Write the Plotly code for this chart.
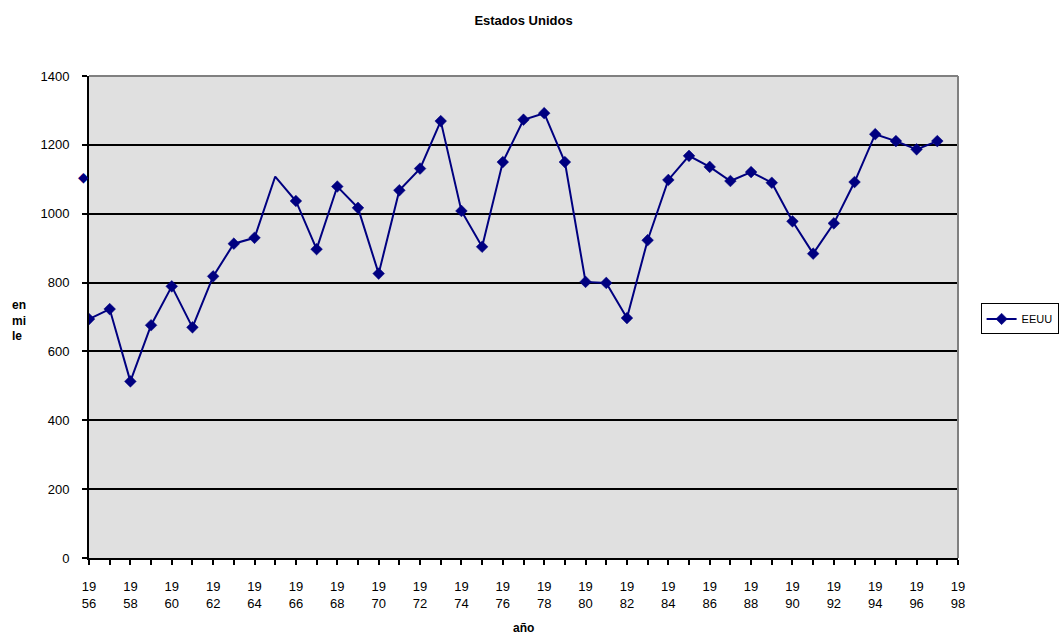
import plotly.graph_objects as go

years = list(range(1956, 1998))
values = [694, 723, 513, 676, 789, 670, 818, 913, 930, 1108,
          1037, 897, 1079, 1017, 826, 1068, 1131, 1269, 1008, 904,
          1150, 1273, 1292, 1150, 802, 799, 697, 923, 1098, 1168,
          1136, 1095, 1121, 1090, 978, 884, 972, 1092, 1231, 1211,
          1187, 1211]
tick_years = list(range(1956, 1999))
tick_labels = [f"19<br>{str(y)[2:]}" if y % 2 == 0 else "" for y in tick_years]
y_ticks = [0, 200, 400, 600, 800, 1000, 1200, 1400]

navy = "#000080"
font = "Liberation Sans, Arial, sans-serif"

# the original shows the 1965 marker displaced onto the value axis
stray_idx = 9
sizes = [0 if i == stray_idx else 9 for i in range(len(values))]

fig = go.Figure()
fig.add_trace(go.Scatter(
    x=years, y=values, mode="lines+markers", name="EEUU",
    line=dict(color=navy, width=2),
    marker=dict(symbol="diamond", size=sizes, color=navy, opacity=1,
                line=dict(width=0.5, color=navy)),
))

fig.update_layout(
    width=1063, height=634,
    margin=dict(l=89, r=105, t=76, b=76, autoexpand=False),
    paper_bgcolor="white", plot_bgcolor="#e0e0e0",
    font=dict(family=font, size=13, color="black"),
    title=dict(text="<b>Estados Unidos</b>", x=0.4925, xanchor="center",
               y=1 - 20 / 634, yanchor="middle",
               font=dict(size=13, family=font, color="black")),
    showlegend=True,
    legend=dict(x=1.026, y=0.496, xanchor="left", yanchor="middle",
                bordercolor="black", borderwidth=1, bgcolor="white",
                font=dict(size=11, family=font), itemwidth=30,
                tracegroupgap=0),
    xaxis=dict(range=[1956, 1998], tickmode="array", tickvals=tick_years,
               ticktext=tick_labels, ticks="outside", ticklen=5,
               tickwidth=1.5, tickcolor="black", tickangle=0,
               showline=True, linecolor="black", linewidth=2,
               showgrid=False, zeroline=False, ticklabelstandoff=10),
    yaxis=dict(range=[0, 1400], tickvals=y_ticks, ticks="outside",
               ticklen=5, tickwidth=1.5, tickcolor="black",
               showline=True, linecolor="black", linewidth=2,
               showgrid=True, gridcolor="black", gridwidth=1.5,
               zeroline=False, ticklabelstandoff=10),
    shapes=[dict(type="line", xref="paper", yref="paper", x0=0, x1=1, y0=1, y1=1,
                 line=dict(color="#808080", width=2), layer="above"),
            dict(type="line", xref="paper", yref="paper", x0=1, x1=1, y0=0, y1=1,
                 line=dict(color="#808080", width=2), layer="above")],
    annotations=[
        dict(text="<b>en<br>mi<br>le</b>", xref="paper", yref="paper",
             x=-79 / 869, y=(558 - 320) / 482, xanchor="left", yanchor="middle",
             align="left", showarrow=False, font=dict(size=12, family=font)),
        dict(text="<b>año</b>", xref="paper", yref="paper",
             x=0.5, y=-(628 - 558) / 482, xanchor="center", yanchor="middle",
             showarrow=False, font=dict(size=12, family=font)),
        dict(text="◆", xref="x", yref="y", x=years[0], y=values[stray_idx],
             xshift=-6, showarrow=False,
             font=dict(size=14, color=navy, family="DejaVu Sans")),
    ],
)

fig.write_html("out.html")
